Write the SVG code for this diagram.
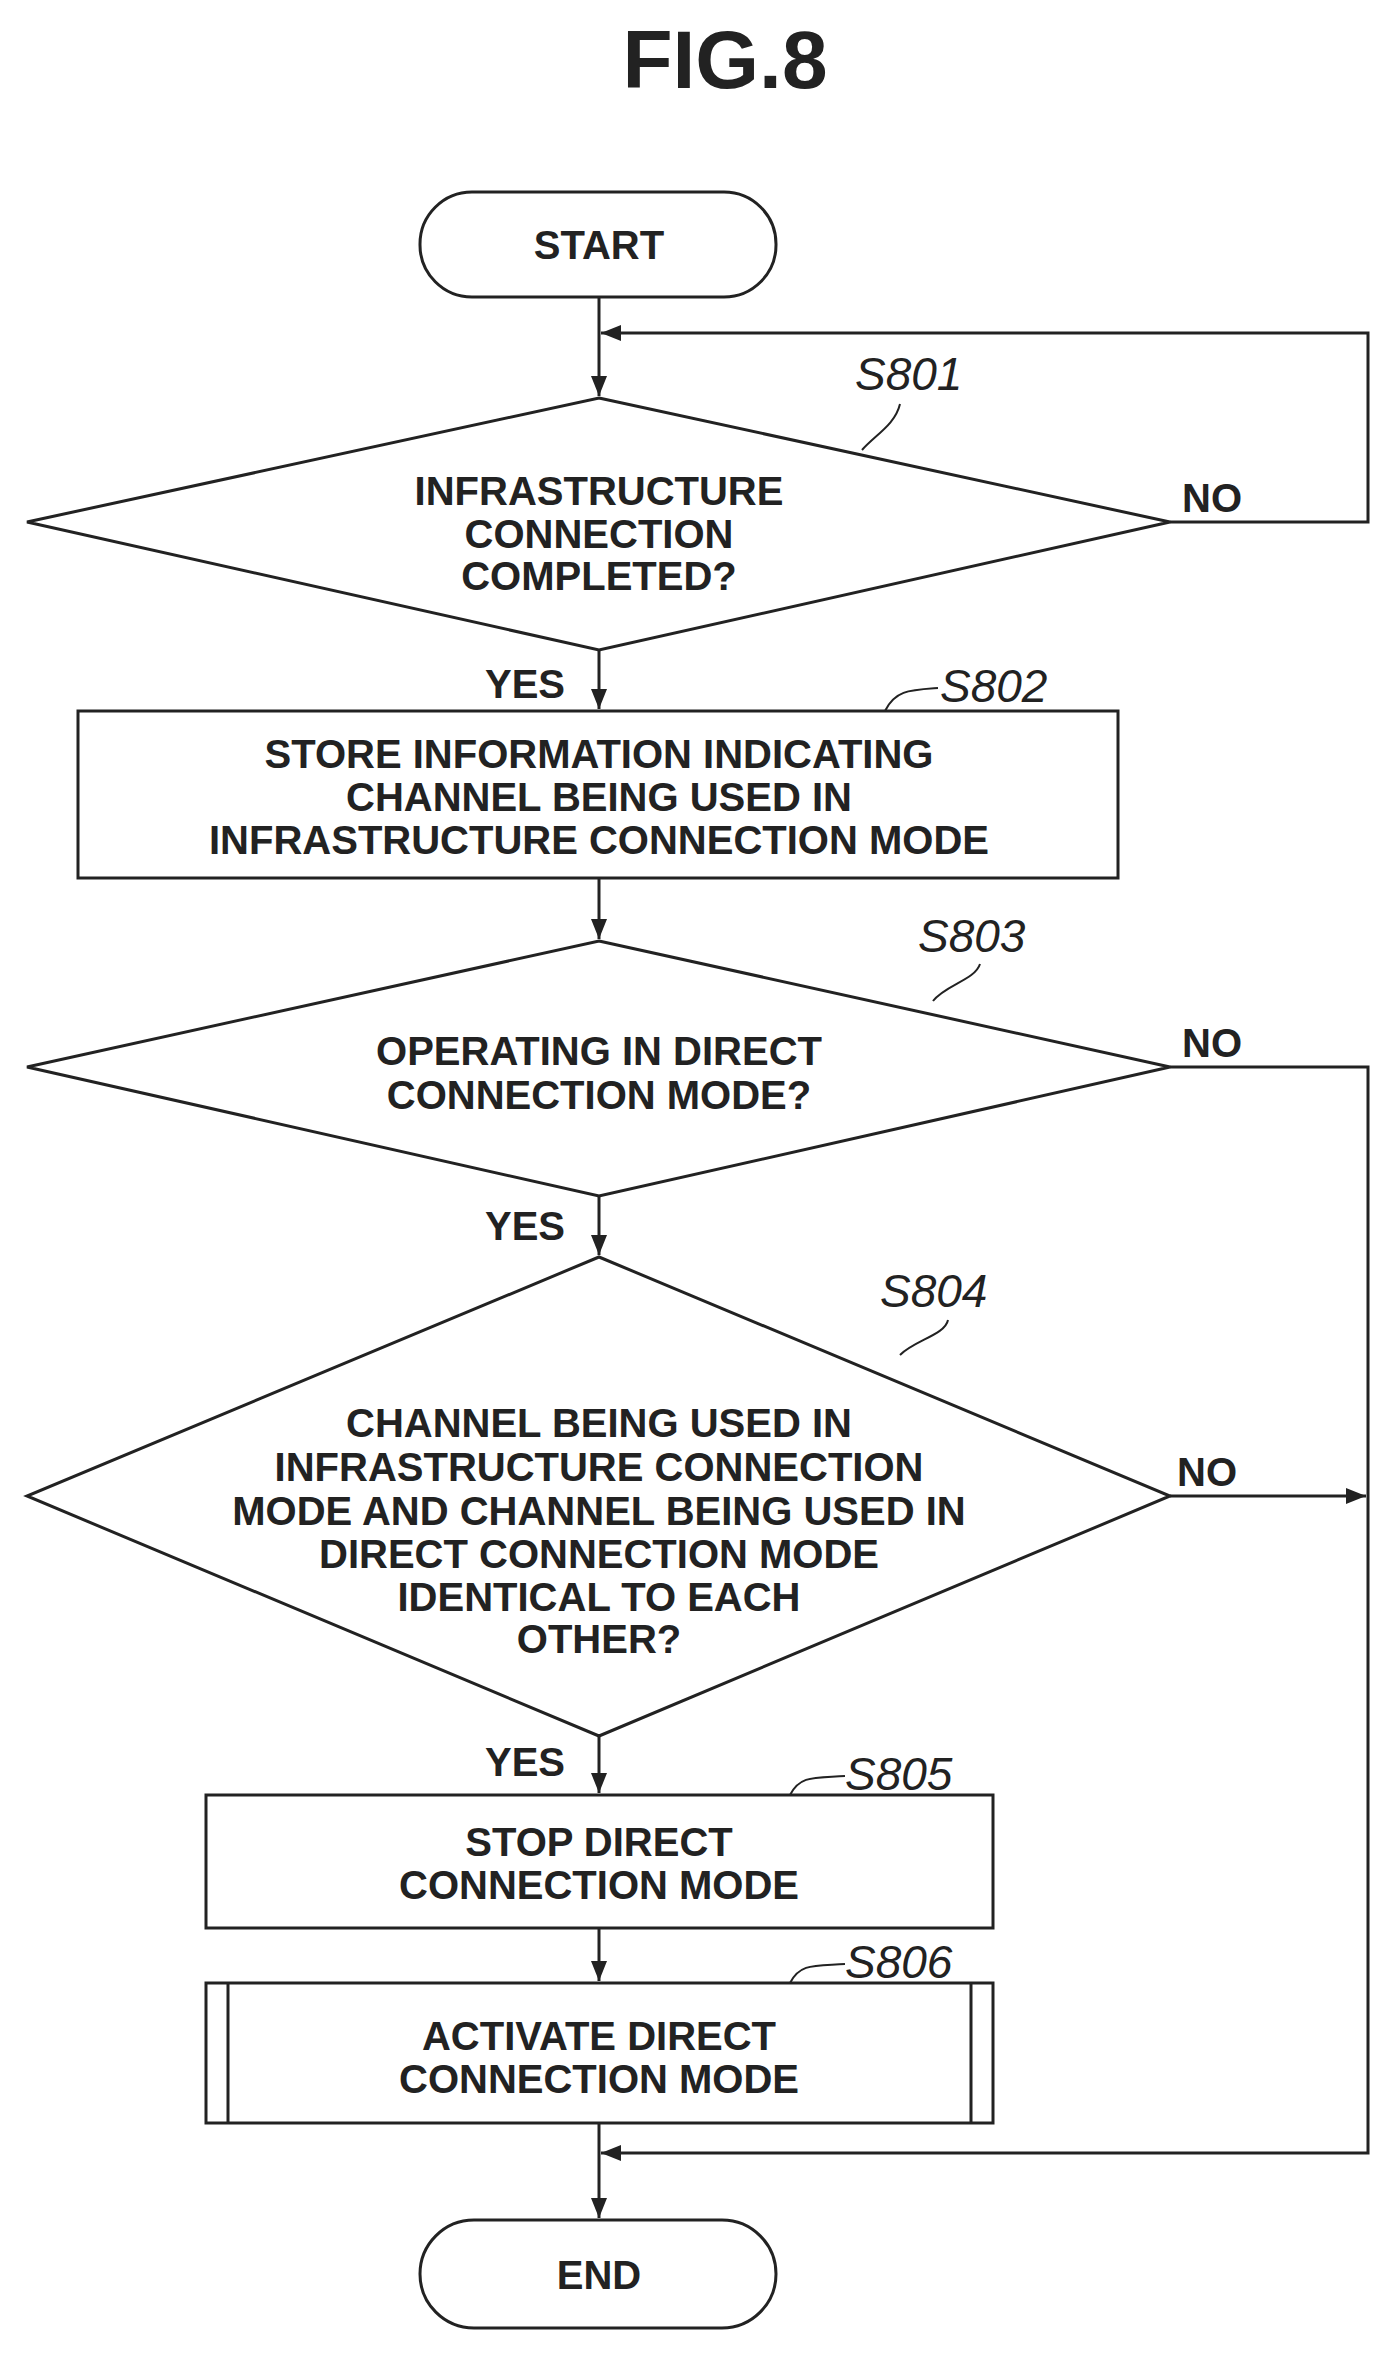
<svg xmlns="http://www.w3.org/2000/svg" width="1397" height="2360" viewBox="0 0 1397 2360">
<style>
.s{fill:none;stroke:#222;stroke-width:3}
.t{font-family:"Liberation Sans",Arial,sans-serif;font-weight:bold;font-size:40px;text-anchor:middle;fill:#222}
.l{font-family:"Liberation Sans",Arial,sans-serif;font-style:italic;font-size:46px;fill:#222}
.ld{fill:none;stroke:#222;stroke-width:2}
</style>
<defs><marker id="b" markerWidth="20" markerHeight="20" refX="20" refY="10" orient="auto" markerUnits="userSpaceOnUse" viewBox="0 0 20 20"><path d="M0,2 L20,10 L0,18 z" fill="#222"/></marker></defs>
<rect width="1397" height="2360" fill="#fff"/>
<text x="725" y="88" class="t" style="font-size:82px">FIG.8</text>
<g id="connectors">
<path class="s" d="M599,297 V396" marker-end="url(#b)"/>
<path class="s" d="M1170,522 H1368 V333 H601" marker-end="url(#b)"/>
<path class="s" d="M599,650 V709" marker-end="url(#b)"/>
<path class="s" d="M599,878 V939" marker-end="url(#b)"/>
<path class="s" d="M599,1196 V1255" marker-end="url(#b)"/>
<path class="s" d="M599,1736 V1793" marker-end="url(#b)"/>
<path class="s" d="M599,1928 V1981" marker-end="url(#b)"/>
<path class="s" d="M599,2123 V2218" marker-end="url(#b)"/>
<path class="s" d="M1170,1067 H1368 V2153 H601" marker-end="url(#b)"/>
<path class="s" d="M1170,1496 H1366" marker-end="url(#b)"/>
<text x="1212" y="512" class="t">NO</text>
<text x="1212" y="1057" class="t">NO</text>
<text x="1207" y="1486" class="t">NO</text>
<text x="525" y="698" class="t">YES</text>
<text x="525" y="1240" class="t">YES</text>
<text x="525" y="1776" class="t">YES</text>
</g>
<g id="start"><rect x="420" y="192" width="356" height="105" rx="52" class="s"/><text x="599" y="259" class="t">START</text></g>
<g id="s801"><path class="s" d="M599,398 L1170,522 L599,650 L27,522 Z"/>
<text x="599" y="505" class="t">INFRASTRUCTURE</text><text x="599" y="548" class="t">CONNECTION</text><text x="599" y="590" class="t">COMPLETED?</text>
<path class="ld" d="M862,450 C875,435 895,425 900,404"/><text x="855" y="390" class="l">S801</text></g>
<g id="s802"><rect x="78" y="711" width="1040" height="167" class="s"/>
<text x="599" y="768" class="t">STORE INFORMATION INDICATING</text><text x="599" y="811" class="t">CHANNEL BEING USED IN</text><text x="599" y="854" class="t">INFRASTRUCTURE CONNECTION MODE</text>
<path class="ld" d="M885,711 C895,690 910,690 938,688"/><text x="940" y="702" class="l">S802</text></g>
<g id="s803"><path class="s" d="M599,941 L1170,1067 L599,1196 L27,1067 Z"/>
<text x="599" y="1065" class="t">OPERATING IN DIRECT</text><text x="599" y="1109" class="t">CONNECTION MODE?</text>
<path class="ld" d="M933,1001 C945,985 975,980 980,964"/><text x="918" y="952" class="l">S803</text></g>
<g id="s804"><path class="s" d="M599,1257 L1170,1496 L599,1736 L27,1496 Z"/>
<text x="599" y="1437" class="t">CHANNEL BEING USED IN</text><text x="599" y="1481" class="t">INFRASTRUCTURE CONNECTION</text><text x="599" y="1525" class="t">MODE AND CHANNEL BEING USED IN</text><text x="599" y="1568" class="t">DIRECT CONNECTION MODE</text><text x="599" y="1611" class="t">IDENTICAL TO EACH</text><text x="599" y="1653" class="t">OTHER?</text>
<path class="ld" d="M900,1355 C915,1340 945,1335 948,1320"/><text x="880" y="1307" class="l">S804</text></g>
<g id="s805"><rect x="206" y="1795" width="787" height="133" class="s"/>
<text x="599" y="1856" class="t">STOP DIRECT</text><text x="599" y="1899" class="t">CONNECTION MODE</text>
<path class="ld" d="M790,1795 C800,1775 815,1778 845,1776"/><text x="845" y="1790" class="l">S805</text></g>
<g id="s806"><rect x="206" y="1983" width="787" height="140" class="s"/><path class="s" d="M228,1983 V2123 M971,1983 V2123"/>
<text x="599" y="2050" class="t">ACTIVATE DIRECT</text><text x="599" y="2093" class="t">CONNECTION MODE</text>
<path class="ld" d="M790,1983 C800,1963 815,1966 845,1964"/><text x="845" y="1978" class="l">S806</text></g>
<g id="end"><rect x="420" y="2220" width="356" height="108" rx="54" class="s"/><text x="599" y="2289" class="t">END</text></g>
</svg>
